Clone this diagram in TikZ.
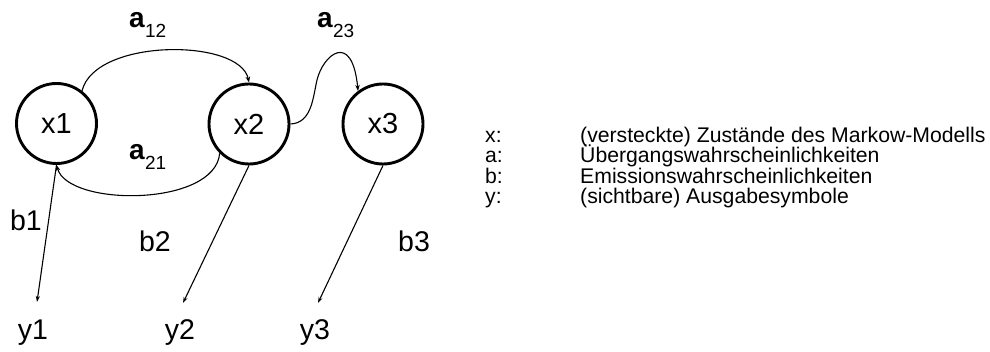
\documentclass[tikz,border=0pt]{standalone}
\usepackage{fontspec}
\setmainfont{Liberation Sans}
\usetikzlibrary{arrows.meta}
\begin{document}
\begin{tikzpicture}[x=1pt,y=-1pt,
  state/.style={circle,draw,line width=2.9pt,minimum size=80pt,inner sep=0pt,
    font=\fontsize{29}{31}\selectfont},
  lbl/.style={inner sep=0pt,font=\fontsize{28.5}{30}\selectfont},
  trans/.style={line width=1.1pt,-{Stealth[length=6pt,width=4.5pt]}},
  emit/.style={line width=1.1pt,-{Stealth[length=6pt,width=4pt]}},
  avar/.style={inner sep=0pt,anchor=base west,font=\fontsize{28}{30}\selectfont\bfseries},
  asub/.style={inner sep=0pt,anchor=base west,font=\fontsize{19}{20}\selectfont,yshift=-10pt},
  legend/.style={inner sep=0pt,anchor=base west,font=\fontsize{21.2}{22}\selectfont}]
  \useasboundingbox (0,0) rectangle (990,352);

  % hidden states
  \node[state] (x1) at (56.5,123.5) {x1};
  \node[state] (x2) at (249,124) {x2};
  \node[state] (x3) at (383,124) {x3};

  % observed symbols
  \node[lbl] (y1) at (33,333) {y1};
  \node[lbl] (y2) at (180,333) {y2};
  \node[lbl] (y3) at (315,333) {y3};
  \coordinate (t1) at (37,302);
  \coordinate (t2) at (183,303);
  \coordinate (t3) at (318,303);

  % transitions
  \draw[trans] (x1.52) .. controls (95,38) and (240,38) .. (x2.north);
  \draw[trans] (x2.225) .. controls (215,207) and (68,207) .. (x1.south);
  \draw[trans] (x2.east) .. controls (312,123) and (313,97) .. (317,80)
                         .. controls (323,55) and (352,30) .. (x3.127);

  % emissions
  \draw[emit] (x1.south) -- (t1);
  \draw[emit] (x2.south) -- (t2);
  \draw[emit] (x3.south) -- (t3);

  % transition labels
  \node[avar] (a12) at (129,28) {a};
  \node[asub] (s12) at (a12.base east) {12};
  \node[avar] (a21) at (129,160) {a};
  \node[asub] (s21) at (a21.base east) {21};
  \node[avar] (a23) at (317,28) {a};
  \node[asub] (s23) at (a23.base east) {23};

  % emission labels
  \node[lbl] (b1) at (26,220) {b1};
  \node[lbl] (b2) at (155,241) {b2};
  \node[lbl] (b3) at (414,241) {b3};

  % legend
  \node[legend] (kx) at (485,142.7) {x:};
  \node[legend] (vx) at (580,142.7) {(versteckte) Zustände des Markow-Modells};
  \node[legend] (ka) at (485,163) {a:};
  \node[legend] (va) at (580,163) {Übergangswahrscheinlichkeiten};
  \node[legend] (kb) at (485,183.2) {b:};
  \node[legend] (vb) at (580,183.2) {Emissionswahrscheinlichkeiten};
  \node[legend] (ky) at (485,203.4) {y:};
  \node[legend] (vy) at (580,203.4) {(sichtbare) Ausgabesymbole};
\end{tikzpicture}
\end{document}
